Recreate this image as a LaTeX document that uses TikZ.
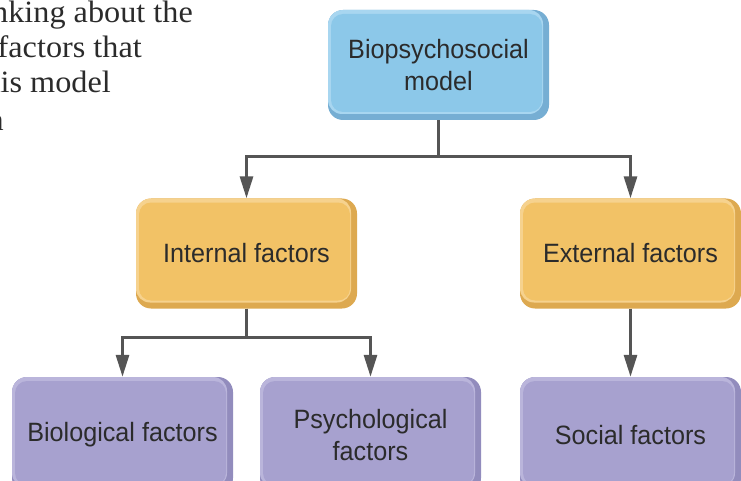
\documentclass[tikz,border=0pt]{standalone}
\usepackage{fontspec}
\usetikzlibrary{arrows.meta}
\newfontfamily\boxfont{Liberation Sans}[FakeStretch=0.95]
\newfontfamily\capfont{Liberation Serif}[FakeStretch=1.04]

\definecolor{bluemain}{HTML}{8CC8E9}
\definecolor{blueedge}{HTML}{76AED3}
\definecolor{bluelight}{HTML}{A8D6F0}
\definecolor{orgmain}{HTML}{F2C266}
\definecolor{orgedge}{HTML}{DDA950}
\definecolor{orglight}{HTML}{F6D28E}
\definecolor{purmain}{HTML}{A7A1CF}
\definecolor{puredge}{HTML}{928CBD}
\definecolor{purlight}{HTML}{BAB5DB}
\definecolor{linegray}{HTML}{555555}
\definecolor{textgray}{HTML}{2B2B2B}

\tikzset{
  % rounded box with a bevelled rim: dark outer rim, light top/left lip, flat face
  bevelbox/.style n args={3}{
    rectangle, rounded corners=15pt, fill=#2,
    minimum width=221pt, minimum height=110pt,
    align=center, text=textgray,
    font=\boxfont\fontsize{26.5}{32}\selectfont,
    path picture={
      \fill[#3, rounded corners=14pt]
        (path picture bounding box.north west) rectangle
        ([shift={(-6pt,6pt)}]path picture bounding box.south east);
      \fill[#1, rounded corners=12pt]
        ([shift={(3pt,-4pt)}]path picture bounding box.north west) rectangle
        ([shift={(-7pt,8pt)}]path picture bounding box.south east);
    }},
  bluebox/.style={bevelbox={bluemain}{blueedge}{bluelight}},
  orangebox/.style={bevelbox={orgmain}{orgedge}{orglight}},
  purplebox/.style={bevelbox={purmain}{puredge}{purlight}, minimum height=116pt},
  conn/.style={draw=linegray, line width=3pt,
    -{Triangle[width=13pt,length=22pt]}},
  captext/.style={anchor=base east, inner sep=0pt, text=textgray,
    font=\capfont\fontsize{31}{35}\selectfont}
}

\begin{document}
\begin{tikzpicture}[x=1pt,y=-1pt]
  \useasboundingbox (0,0) rectangle (741,481);

  % caption text running in from the left page edge
  \begin{scope}
    \clip (0,0) rectangle (741,481);
    \node[captext] (cap1) at (193,23) {thinking about the};
    \node[captext] (cap2) at (142,58) {factors that};
    \node[captext] (cap3) at (111,93) {this model};
    \node[captext] (cap4) at (4,131) {in};
  \end{scope}

  % boxes
  \node[bluebox]   (bio)  at (438.5,65)    {Biopsychosocial\\model};
  \node[orangebox] (int)  at (246.5,253.5) {Internal factors};
  \node[orangebox] (ext)  at (630.5,253.5) {External factors};
  \node[purplebox] (biol) at (122.5,435)   {Biological factors};
  \node[purplebox] (psy)  at (370.5,435)   {Psychological\\factors};
  \node[purplebox] (soc)  at (630.5,435)   {Social factors};

  % connectors
  \draw[conn] (bio.south) -- ++(0,36) -| (int.north);
  \draw[conn] (bio.south) -- ++(0,36) -| (ext.north);
  \draw[conn] (int.south) -- ++(0,29) -| (biol.north);
  \draw[conn] (int.south) -- ++(0,29) -| (psy.north);
  \draw[conn] (ext.south) -- (soc.north);
\end{tikzpicture}
\end{document}
